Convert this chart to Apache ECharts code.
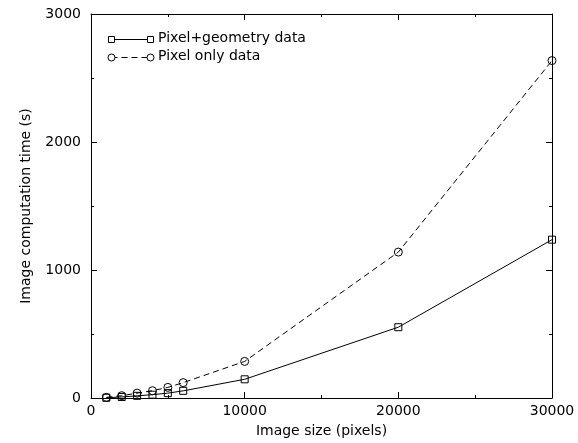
<!DOCTYPE html>
<html>
<head>
<meta charset="utf-8">
<script src="https://cdn.jsdelivr.net/npm/echarts@6/dist/echarts.min.js"></script>
<style>
html,body{margin:0;padding:0;background:#fff;}
#chart{width:578px;height:443px;}
</style>
</head>
<body>
<div id="chart"></div>
<script>
var imageSizes = [1000, 2000, 3000, 4000, 5000, 6000, 10000, 20000, 30000];
var pixelGeometry = [2, 8, 17, 26, 38, 56, 146, 553, 1237];
var pixelOnly = [5, 18, 38, 57, 83, 120, 286, 1140, 2636];
var seriesNames = ['Pixel+geometry data', 'Pixel only data'];
var xTitle = 'Image size (pixels)';
var yTitle = 'Image computation time (s)';

var FONT = 'DejaVu Sans';
function pairs(xs, ys) { return xs.map(function (x, i) { return [x, ys[i]]; }); }
function plain(v) { return String(v); }

var chart = echarts.init(document.getElementById('chart'), null, {renderer: 'canvas'});

function axisBase(extra) {
  var a = {
    type: 'value',
    axisLine: {show: true, onZero: false, lineStyle: {color: '#000', width: 1}},
    axisTick: {show: true, inside: true, length: 6, lineStyle: {color: '#000', width: 1}},
    minorTick: {show: true, splitNumber: 2, length: 3, lineStyle: {color: '#000', width: 1}},
    splitLine: {show: false},
    minorSplitLine: {show: false}
  };
  for (var k in extra) a[k] = extra[k];
  return a;
}

var option = {
  animation: false,
  backgroundColor: '#fff',
  grid: {left: 91, right: 26, top: 14, bottom: 44, containLabel: false},
  xAxis: [
    axisBase({
      position: 'bottom', min: 0, max: 30000, interval: 10000,
      name: xTitle, nameLocation: 'middle', nameGap: 26,
      nameTextStyle: {fontFamily: FONT, fontSize: 14, color: '#000'},
      axisLabel: {show: true, margin: 6, fontFamily: FONT, fontSize: 14, color: '#000', formatter: plain}
    }),
    axisBase({
      position: 'top', min: 0, max: 30000, interval: 10000,
      axisLabel: {show: false}
    })
  ],
  yAxis: [
    axisBase({
      position: 'left', min: 0, max: 3000, interval: 1000,
      name: yTitle, nameLocation: 'middle', nameGap: 58,
      nameTextStyle: {fontFamily: FONT, fontSize: 14, color: '#000'},
      axisLabel: {show: true, margin: 10, fontFamily: FONT, fontSize: 14, color: '#000', formatter: plain}
    }),
    axisBase({
      position: 'right', min: 0, max: 3000, interval: 1000,
      axisLabel: {show: false}
    })
  ],
  series: [
    {
      name: seriesNames[0], type: 'line', xAxisIndex: 0, yAxisIndex: 0,
      data: pairs(imageSizes, pixelGeometry),
      symbol: 'rect', symbolSize: 7,
      itemStyle: {color: 'rgba(0,0,0,0)', borderColor: '#000', borderWidth: 1},
      lineStyle: {color: '#000', width: 1, type: 'solid'},
      emphasis: {disabled: true}
    },
    {
      name: seriesNames[1], type: 'line', xAxisIndex: 0, yAxisIndex: 0,
      data: pairs(imageSizes, pixelOnly),
      symbol: 'circle', symbolSize: 8,
      itemStyle: {color: 'rgba(0,0,0,0)', borderColor: '#000', borderWidth: 1},
      lineStyle: {color: '#000', width: 1, type: [6, 4]},
      emphasis: {disabled: true}
    }
  ],
  graphic: [
    {type: 'line', shape: {x1: 111.5, y1: 39.5, x2: 150.5, y2: 39.5}, style: {stroke: '#000', lineWidth: 1}},
    {type: 'rect', shape: {x: 108.5, y: 36.5, width: 6, height: 6}, style: {fill: '#fff', stroke: '#000', lineWidth: 1}},
    {type: 'rect', shape: {x: 147.5, y: 36.5, width: 6, height: 6}, style: {fill: '#fff', stroke: '#000', lineWidth: 1}},
    {type: 'text', left: 158, top: 31, style: {text: seriesNames[0], font: '14px "DejaVu Sans"', fill: '#000'}},
    {type: 'line', shape: {x1: 111.5, y1: 57.5, x2: 150.5, y2: 57.5}, style: {stroke: '#000', lineWidth: 1, lineDash: [6, 4]}},
    {type: 'circle', shape: {cx: 111.5, cy: 57.5, r: 3.5}, style: {fill: '#fff', stroke: '#000', lineWidth: 1}},
    {type: 'circle', shape: {cx: 150.5, cy: 57.5, r: 3.5}, style: {fill: '#fff', stroke: '#000', lineWidth: 1}},
    {type: 'text', left: 158, top: 49, style: {text: seriesNames[1], font: '14px "DejaVu Sans"', fill: '#000'}}
  ]
};
chart.setOption(option);
</script>
</body>
</html>
